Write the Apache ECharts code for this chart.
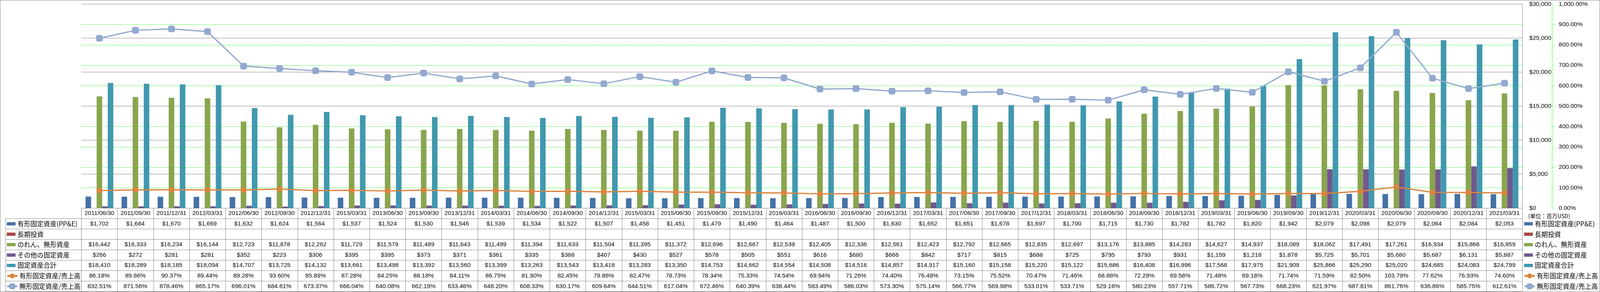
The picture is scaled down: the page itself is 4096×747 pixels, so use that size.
<!DOCTYPE html>
<html><head><meta charset="utf-8">
<script src="https://cdn.jsdelivr.net/npm/echarts@6/dist/echarts.min.js"></script>
<style>html,body{margin:0;padding:0;background:#fff;overflow:hidden}#c{width:4096px;height:747px}</style>
</head><body><div id="c"></div>
<script>
// ---------- DATA ----------
const categories = ['2011/06/30','2011/09/30','2011/12/31','2012/03/31','2012/06/30','2012/09/30','2012/12/31','2013/03/31','2013/06/30','2013/09/30','2013/12/31','2014/03/31','2014/06/30','2014/09/30','2014/12/31','2015/03/31','2015/06/30','2015/09/30','2015/12/31','2016/03/31','2016/06/30','2016/09/30','2016/12/31','2017/03/31','2017/06/30','2017/09/30','2017/12/31','2018/03/31','2018/06/30','2018/09/30','2018/12/31','2019/03/31','2019/06/30','2019/09/30','2019/12/31','2020/03/31','2020/06/30','2020/09/30','2020/12/31','2021/03/31'];
const ppe = [1702,1684,1670,1669,1632,1624,1564,1537,1524,1530,1546,1539,1534,1522,1507,1458,1451,1479,1490,1464,1487,1500,1630,1652,1651,1678,1697,1700,1715,1730,1782,1782,1820,1942,2079,2098,2079,2064,2084,2053];
const longTermInvestments = [null,null,null,null,null,null,null,null,null,null,null,null,null,null,null,null,null,null,null,null,null,null,null,null,null,null,null,null,null,null,null,null,null,null,null,null,null,null,null,null];
const goodwillIntangibles = [16442,16333,16234,16144,12723,11878,12262,11729,11579,11489,11643,11499,11394,11633,11504,11395,11372,12696,12667,12539,12405,12336,12561,12423,12792,12665,12835,12697,13176,13885,14283,14627,14937,18089,18062,17491,17261,16934,15868,16859];
const otherFixedAssets = [266,272,281,281,352,223,306,395,395,373,371,361,335,388,407,430,527,578,505,551,616,680,666,842,717,815,688,725,795,793,931,1159,1218,1878,5725,5701,5680,5687,6131,5887];
const totalFixedAssets = [18410,18289,18185,18094,14707,13725,14132,13661,13498,13392,13560,13399,13263,13543,13418,13283,13350,14753,14662,14554,14508,14516,14857,14917,15160,15158,15220,15122,15686,16408,16996,17568,17975,21909,25866,25290,25020,24685,24083,24799];
const ppeToSales = [86.18,89.86,90.37,89.44,89.28,93.60,85.89,87.28,84.25,88.18,84.11,86.75,81.90,82.45,79.86,82.47,78.73,78.34,75.33,74.54,69.94,71.26,74.40,76.48,73.15,75.52,70.47,71.46,68.88,72.29,69.58,71.48,69.18,71.74,71.59,82.50,103.79,77.62,76.93,74.60];
const intangibleToSales = [832.51,871.56,878.46,865.17,696.01,684.61,673.37,666.04,640.08,662.19,633.46,648.20,608.33,630.17,609.64,644.51,617.04,672.46,640.39,638.44,583.49,586.03,573.30,575.14,566.77,569.98,533.01,533.71,529.16,580.23,557.71,586.72,567.73,668.23,621.97,687.81,861.76,636.86,585.75,612.61];
const seriesNames = ['有形固定資産(PP&E)','長期投資','のれん、無形資産','その他の固定資産','固定資産合計','有形固定資産/売上高','無形固定資産/売上高'];
const unitLabel = '(単位：百万USD)';
const leftAxisTicks = {min: 0, max: 30000, interval: 5000};
const rightAxisTicks = {min: 0, max: 1000, interval: 100};

// ---------- LAYOUT ----------
const S = 0.697, W = 4096, H = 747;
const gridLeft = 299 * S, gridRightX = 5592 * S, gridTop = 15 * S, gridBottomY = 764 * S;
const rowH = 38.25 * S;
const LATIN = '"Liberation Sans", Arial, sans-serif';
const CJK = '"Noto Sans CJK JP", sans-serif';
const GRAY = '#868686';
const colors = ['#4572A7','#AA4643','#89A54E','#71588F','#4198AF','#DB843D','#93A9CF'];
const tableFont = 15.5, cjkFont = 16.7;

const fmtMoney = v => (v === null || v === undefined) ? '' : '$' + v.toLocaleString('en-US');
const fmtPct = v => (v === null || v === undefined) ? '' : v.toLocaleString('en-US', {minimumFractionDigits: 2, maximumFractionDigits: 2}) + '%';

const rowData = [
  [ppe, fmtMoney], [longTermInvestments, fmtMoney], [goodwillIntangibles, fmtMoney],
  [otherFixedAssets, fmtMoney], [totalFixedAssets, fmtMoney], [ppeToSales, fmtPct], [intangibleToSales, fmtPct]
];

const xAxes = [{
  type: 'category', data: categories, position: 'bottom', boundaryGap: true,
  axisLine: {show: true, lineStyle: {color: GRAY, width: 1}},
  axisTick: {show: true, interval: 0, alignWithLabel: false, length: 8 * rowH, lineStyle: {color: GRAY, width: 1}},
  axisLabel: {interval: 0, margin: rowH / 2, verticalAlign: 'middle', fontFamily: LATIN, fontSize: tableFont, color: '#000', hideOverlap: false},
  splitLine: {show: false}
}];
rowData.forEach((r, k) => {
  xAxes.push({
    type: 'category', data: categories, position: 'bottom', offset: (k + 1) * rowH, boundaryGap: true,
    axisLine: {show: false}, axisTick: {show: false}, splitLine: {show: false},
    axisLabel: {interval: 0, margin: rowH / 2, verticalAlign: 'middle', fontFamily: LATIN, fontSize: tableFont, color: '#000', hideOverlap: false,
      formatter: (v, i) => r[1](r[0][i])}
  });
});

const barSeriesData = [ppe, longTermInvestments, goodwillIntangibles, otherFixedAssets, totalFixedAssets];
const series = barSeriesData.map((d, i) => ({
  name: seriesNames[i], type: 'bar', xAxisIndex: 0, yAxisIndex: 0, data: d,
  barGap: '0%', barCategoryGap: '23%', itemStyle: {color: colors[i]}, z: 2
}));
series.push({
  name: seriesNames[5], type: 'line', xAxisIndex: 0, yAxisIndex: 1, data: ppeToSales,
  symbol: 'circle', symbolSize: 14.6, showAllSymbol: true,
  lineStyle: {color: colors[5], width: 3.2}, itemStyle: {color: colors[5]}, z: 4
});
series.push({
  name: seriesNames[6], type: 'line', xAxisIndex: 0, yAxisIndex: 1, data: intangibleToSales,
  symbol: 'roundRect', symbolSize: 15.8, showAllSymbol: true,
  lineStyle: {color: colors[6], width: 3.2}, itemStyle: {color: colors[6], borderColor: '#879fca', borderWidth: 1}, z: 4
});

function legendPair(xBar, xLine) {
  const top = gridBottomY + rowH;
  const common = {orient: 'vertical', selectedMode: false, padding: 0, itemGap: 0,
    textStyle: {fontFamily: CJK, fontSize: cjkFont, lineHeight: rowH, color: '#000'}};
  return [
    Object.assign({}, common, {left: xBar, top: top, itemWidth: 22.3, itemHeight: 8.4, itemTextGap: 3,
      data: seriesNames.slice(0, 5).map(n => ({name: n, icon: 'rect'}))}),
    Object.assign({}, common, {left: xLine, top: top + 5 * rowH, itemWidth: 26, itemHeight: 15.6, itemTextGap: 1.5,
      lineStyle: {width: 5}, data: seriesNames.slice(5)})
  ];
}

const graphics = [
  {type: 'rect', shape: {x: 0.5, y: 0.5, width: W - 1, height: H - 1}, style: {fill: 'none', stroke: GRAY, lineWidth: 1}, silent: true},
  {type: 'text', x: 5613 * S, y: 793 * S, style: {text: unitLabel, fontFamily: CJK, fontSize: 14, fill: '#000', verticalAlign: 'middle'}}
];
for (let k = 1; k <= 8; k++) {
  graphics.push({type: 'line', shape: {x1: 20.7 * S, y1: gridBottomY + k * rowH, x2: gridRightX, y2: gridBottomY + k * rowH}, style: {stroke: GRAY, lineWidth: 1}, silent: true});
}
[20.7 * S, gridLeft].forEach(x => {
  graphics.push({type: 'line', shape: {x1: x, y1: gridBottomY + rowH, x2: x, y2: gridBottomY + 8 * rowH}, style: {stroke: GRAY, lineWidth: 1}, silent: true});
});

const option = {
  animation: false,
  backgroundColor: '#fff',
  grid: {left: gridLeft, right: W - gridRightX, top: gridTop, bottom: H - gridBottomY, containLabel: false},
  xAxis: xAxes,
  yAxis: [
    {type: 'value', position: 'right', min: leftAxisTicks.min, max: leftAxisTicks.max, interval: leftAxisTicks.interval, z: 1,
      axisLine: {show: true, lineStyle: {color: GRAY, width: 1}}, axisTick: {show: false},
      axisLabel: {margin: 25 * S, fontFamily: LATIN, fontSize: tableFont, color: '#000', formatter: v => '$' + v.toLocaleString('en-US')},
      splitLine: {show: true, lineStyle: {color: GRAY, width: 1}}},
    {type: 'value', position: 'right', offset: (5700.7 - 5592) * S, min: rightAxisTicks.min, max: rightAxisTicks.max, interval: rightAxisTicks.interval, z: 0,
      axisLine: {show: true, lineStyle: {color: '#00ff00', width: 1, type: [3, 2]}},
      axisTick: {show: true, length: 5, lineStyle: {color: '#00ff00', width: 1, type: [2, 1]}},
      axisLabel: {margin: 24.3 * S, fontFamily: LATIN, fontSize: tableFont, color: '#000',
        formatter: v => v.toLocaleString('en-US', {minimumFractionDigits: 2, maximumFractionDigits: 2}) + '%'},
      splitLine: {show: true, lineStyle: {color: '#00ff00', width: 1, type: [2.4, 1.5]}}}
  ],
  legend: legendPair(25 * S, 23 * S).concat(legendPair(5598 * S, 5596 * S)),
  series: series,
  graphic: graphics
};
const chart = echarts.init(document.getElementById('c'), null, {renderer: 'canvas'});
chart.setOption(option);
</script></body></html>
